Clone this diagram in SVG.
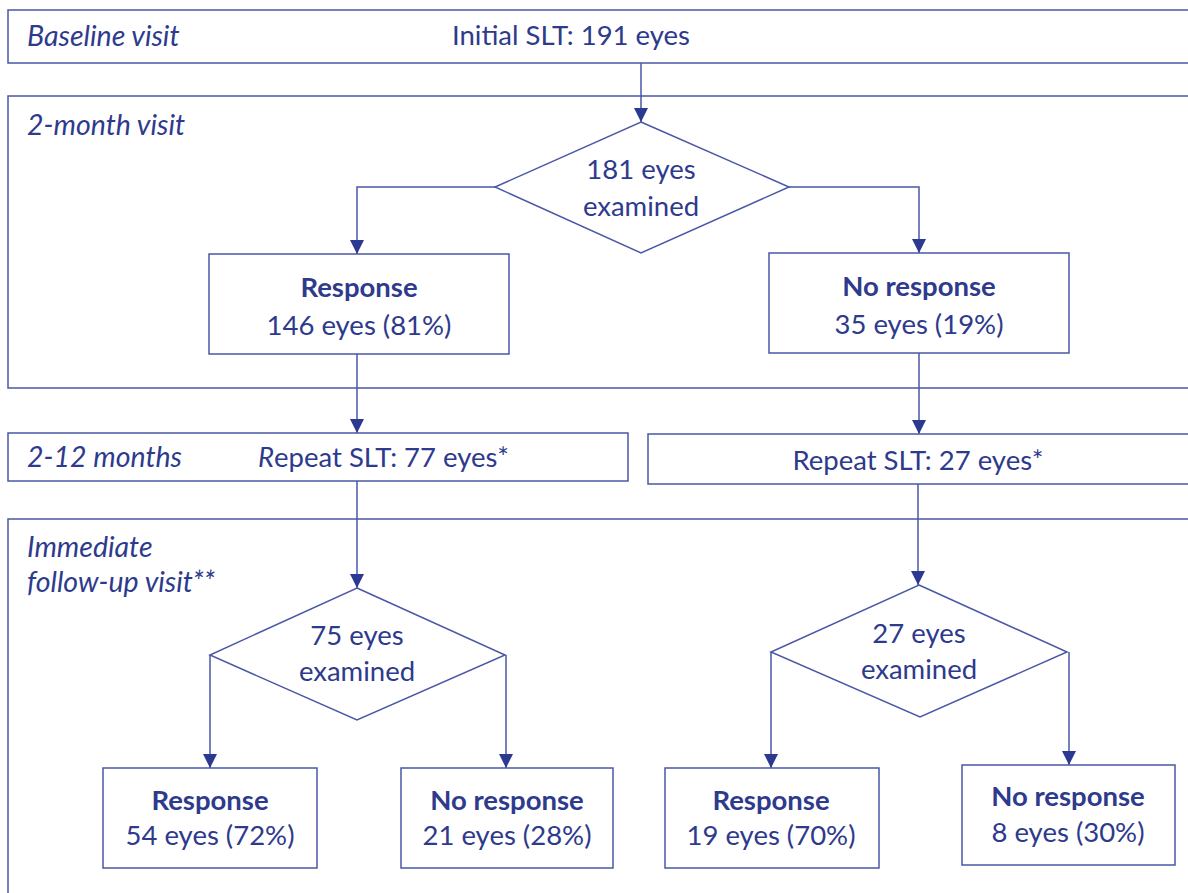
<svg xmlns="http://www.w3.org/2000/svg" width="1188" height="893" viewBox="0 0 1188 893">
<style>
text{font-family:Lato,"Liberation Sans",sans-serif;fill:#2E3A8C;font-size:27.5px}
.c{text-anchor:middle}
.b{font-weight:bold}
.i{font-style:italic;font-size:28.5px}
.box{fill:#fff;stroke:#4A58A6;stroke-width:1.5}
.ln{fill:none;stroke:#4A58A6;stroke-width:1.5}
</style>
<defs>
<marker id="ad" markerUnits="userSpaceOnUse" markerWidth="14" markerHeight="14" refX="7" refY="14" viewBox="0 0 14 14" orient="0">
<path d="M0,0 L14,0 L7,14 Z" fill="#2B3990"/>
</marker>
</defs>
<rect width="1188" height="893" fill="#fff"/>
<g id="stage-baseline"><rect class="box" x="8" y="10" width="1200" height="53"/><text class="i" x="27" y="46">Baseline visit</text></g>
<g id="stage-2month"><rect class="box" x="8" y="96" width="1200" height="292"/><text class="i" x="27" y="135">2-month visit</text></g>
<g id="stage-immediate"><rect class="box" x="8" y="519" width="1200" height="400"/><text class="i" x="27" y="557">Immediate</text><text class="i" x="27" y="592">follow-up visit**</text></g>
<g id="connectors">
<path class="ln" d="M641,63 V122" marker-end="url(#ad)"/>
<path class="ln" d="M495,187 H357 V254" marker-end="url(#ad)"/>
<path class="ln" d="M789,187 H919 V253" marker-end="url(#ad)"/>
<path class="ln" d="M357,354 V433" marker-end="url(#ad)"/>
<path class="ln" d="M919,353 V434" marker-end="url(#ad)"/>
<path class="ln" d="M357,481 V588" marker-end="url(#ad)"/>
<path class="ln" d="M918,484 V585" marker-end="url(#ad)"/>
<path class="ln" d="M210,655 V768" marker-end="url(#ad)"/>
<path class="ln" d="M506,655 V768" marker-end="url(#ad)"/>
<path class="ln" d="M771,652 V768" marker-end="url(#ad)"/>
<path class="ln" d="M1069,652 V765" marker-end="url(#ad)"/>
</g>
<g id="initial"><text class="c" x="571" y="45">Initial SLT: 191 eyes</text></g>
<g id="d1"><polygon class="box" points="641,122 789,187 641,253 495,187"/><text class="c" x="641" y="179">181 eyes</text><text class="c" x="641" y="216">examined</text></g>
<g id="resp1"><rect class="box" x="209" y="254" width="300" height="100"/><text class="c b" x="359" y="297">Response</text><text class="c" x="359" y="335">146 eyes (81%)</text></g>
<g id="noresp1"><rect class="box" x="769" y="253" width="300" height="100"/><text class="c b" x="919" y="296">No response</text><text class="c" x="919" y="334">35 eyes (19%)</text></g>
<g id="repeat77"><rect class="box" x="8" y="433" width="620" height="48"/><text class="i" x="27" y="467">2-12 months</text><text x="258" y="467"><tspan style="font-style:italic">R</tspan>epeat SLT: 77 eyes*</text></g>
<g id="repeat27"><rect class="box" x="648" y="434" width="560" height="50"/><text class="c" x="918" y="470">Repeat SLT: 27 eyes*</text></g>
<g id="d2"><polygon class="box" points="357,588 505,655 357,720 210,655"/><text class="c" x="357" y="645">75 eyes</text><text class="c" x="357" y="681">examined</text></g>
<g id="d3"><polygon class="box" points="919,585 1067,652 920,717 771,652"/><text class="c" x="919" y="643">27 eyes</text><text class="c" x="919" y="679">examined</text></g>
<g id="resp2"><rect class="box" x="103" y="768" width="214" height="100"/><text class="c b" x="210" y="810">Response</text><text class="c" x="210" y="845">54 eyes (72%)</text></g>
<g id="noresp2"><rect class="box" x="401" y="768" width="212" height="100"/><text class="c b" x="507" y="810">No response</text><text class="c" x="507" y="845">21 eyes (28%)</text></g>
<g id="resp3"><rect class="box" x="665" y="768" width="214" height="100"/><text class="c b" x="771" y="810">Response</text><text class="c" x="771" y="845">19 eyes (70%)</text></g>
<g id="noresp3"><rect class="box" x="962" y="765" width="213" height="100"/><text class="c b" x="1068" y="806">No response</text><text class="c" x="1068" y="842">8 eyes (30%)</text></g>
</svg>
